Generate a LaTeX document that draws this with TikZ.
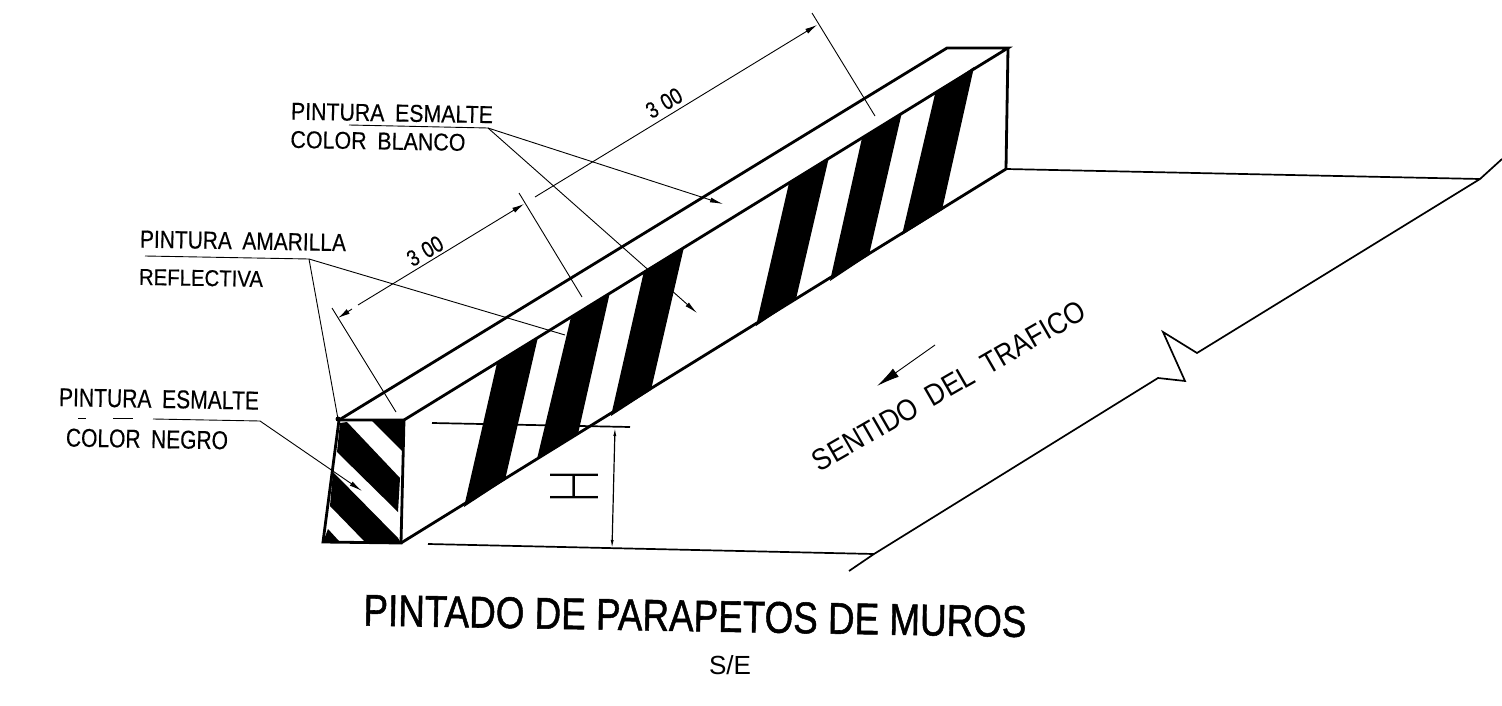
\documentclass[tikz,border=0pt]{standalone}
\usepackage{fontspec}
\usepackage{graphicx}
\setmainfont{Liberation Sans}
\newfontfamily\thinfont{Lato Light}
\newfontfamily\heavyfont[FakeBold=1.2]{Liberation Sans}
\newfontfamily\medfont[FakeBold=0.35]{Liberation Sans}
\usetikzlibrary{arrows.meta}
\newcommand{\fitbox}[3]{\resizebox{#1pt}{#2pt}{#3}}
\tikzset{
  outline/.style={line width=2.8pt,line join=miter,black},
  groundline/.style={line width=1.7pt,black},
  leader/.style={line width=0.9pt,black},
  tipped/.style={leader,-{Latex[length=13pt,width=5pt]}},
  dimtip/.style={leader,-{Latex[length=12pt,width=5.5pt]}},
  txt/.style={inner sep=0pt,outer sep=0pt,text=black,rotate=-1},
  fillblack/.style={fill=black,draw=none}
}
\begin{document}
\begin{tikzpicture}[x=1pt,y=-1pt]
\useasboundingbox (0,0) rectangle (1502,706);
\fill[white] (0,0) rectangle (1502,706);
% corners
\coordinate (fTL) at (339,420);
\coordinate (fTR) at (404,420);
\coordinate (fBR) at (401,543);
\coordinate (fBL) at (323,542);
\coordinate (bL) at (947,48);
\coordinate (bR) at (1008,48);
\coordinate (bB) at (1006,169);
% long face stripes
\fill[fillblack] (497,363)--(538,337)--(505,480)--(464,507)--cycle;
\fill[fillblack] (571,317)--(610,292)--(578,434)--(537,459)--cycle;
\fill[fillblack] (644,271)--(684,247)--(651,390)--(611,416)--cycle;
\fill[fillblack] (789,183)--(829,157)--(796,299)--(756,326)--cycle;
\fill[fillblack] (862,138)--(902,112)--(869,255)--(830,281)--cycle;
\fill[fillblack] (935,94)--(974,67)--(942,210)--(902,235)--cycle;
% end face stripes
\fill[fillblack] (372,421)--(404,421)--(403,452)--cycle;
\fill[fillblack] (340,423)--(347,422)--(400,478)--(398,512)--(337,452)--cycle;
\fill[fillblack] (333,472)--(398,538)--(401,543)--(365,542)--(330,506)--cycle;
\fill[fillblack] (328,529)--(339,541)--(323,542)--cycle;
% parapet outline
\draw[outline] (fTL)--(fTR)--(fBR)--(fBL)--cycle;
\draw[outline] (fTL)--(bL)--(bR)--(fTR);
\draw[outline] (bR)--(bB)--(fBR);
% ground
\coordinate (gE) at (1480,179);
\coordinate (gEx) at (1502,159);
\coordinate (z1) at (1197,353);
\coordinate (z2) at (1163,332);
\coordinate (z3) at (1185,381);
\coordinate (z4) at (1158,378);
\coordinate (gS) at (874,554);
\coordinate (gSx) at (849,571);
\draw[groundline] (bB)--(gE);
\draw[groundline] (gEx)--(gE)--(z1)--(z2)--(z3)--(z4)--(gS)--(gSx);
% height dimension
\coordinate (hT) at (432,423);
\coordinate (hTe) at (630,427);
\coordinate (hB) at (428,544);
\coordinate (hV1) at (615,427);
\coordinate (hV2) at (612,549);
\draw[groundline] (hT)--(hTe);
\draw[groundline] (hB)--(gS);
\draw[line width=1.2pt,{Latex[length=9pt,width=3pt]}-{Latex[length=9pt,width=3pt]}] (hV1)--(hV2);
\node[inner sep=0pt,rotate=90] (hlabel) at (574,486) {\fitbox{34}{48}{\thinfont H}};
% dimensions along the top
\coordinate (e1a) at (332,308);
\coordinate (e1b) at (396,412);
\coordinate (e2a) at (519,193);
\coordinate (e2b) at (582,297);
\coordinate (e3a) at (812,13);
\coordinate (e3b) at (875,116);
\coordinate (d1) at (338,318);
\coordinate (d1g) at (358,305);
\coordinate (d1h) at (352,309);
\coordinate (d2) at (524,204);
\coordinate (d2b) at (535,197);
\coordinate (d3) at (817,25);
\draw[leader] (e1a)--(e1b);
\draw[leader] (e2a)--(e2b);
\draw[leader] (e3a)--(e3b);
\draw[dimtip] (d1h)--(d1);
\draw[dimtip] (d1g)--(d2);
\draw[dimtip] (d2b)--(d3);
\node[txt,rotate=31] (dimA) at (425,251) {\fitbox{38}{16}{\medfont 3\,\,00}};
\node[txt,rotate=31] (dimB) at (664,103) {\fitbox{38}{16}{\medfont 3\,\,00}};
% labels
\node[txt] (lblA) at (392,113) {\fitbox{202}{17}{\medfont PINTURA\hspace{0.5em}ESMALTE}};
\node[txt] (lblB) at (378,141) {\fitbox{175}{17}{\medfont COLOR\hspace{0.5em}BLANCO}};
\node[txt] (lblC) at (243,241) {\fitbox{206}{17}{\medfont PINTURA\hspace{0.5em}AMARILLA}};
\node[txt] (lblD) at (201,278) {\fitbox{124}{16}{\medfont REFLECTIVA}};
\node[txt] (lblE) at (159,399) {\fitbox{200}{18}{\medfont PINTURA\hspace{0.5em}ESMALTE}};
\node[txt] (lblF) at (147,439) {\fitbox{162}{18}{\medfont COLOR\hspace{0.5em}NEGRO}};
% leaders: blanco
\coordinate (bl0) at (349,125);
\coordinate (bl1) at (488,128);
\coordinate (bl2) at (723,204);
\coordinate (bl3) at (697,313);
\draw[leader] (bl0)--(bl1);
\draw[tipped] (bl1)--(bl2);
\draw[tipped] (bl1)--(bl3);
% leaders: amarilla
\coordinate (am0) at (145,256);
\coordinate (am1) at (309,259);
\coordinate (am2) at (565,335);
\coordinate (am3) at (338,419);
\draw[leader] (am0)--(am1);
\draw[leader] (am1)--(am2);
\draw[leader] (am1)--(am3);
\fill (am3) circle (2.5pt);
% leader: negro
\coordinate (ne0a) at (78,418);
\coordinate (ne0b) at (86,418);
\coordinate (ne1a) at (113,418);
\coordinate (ne1b) at (133,418);
\coordinate (ne2) at (153,419);
\coordinate (ne3) at (260,421);
\coordinate (ne4) at (362,491);
\draw[leader] (ne0a)--(ne0b);
\draw[leader] (ne1a)--(ne1b);
\draw[leader] (ne2)--(ne3);
\draw[tipped] (ne3)--(ne4);
% traffic
\coordinate (tr1) at (935,345);
\coordinate (tr2) at (877,386);
\draw[leader,-{Latex[length=23pt,width=10pt]}] (tr1)--(tr2);
\node[txt,rotate=31] (traf) at (949,386) {\fitbox{310}{21}{SENTIDO\hspace{0.5em}DEL\hspace{0.5em}TRAFICO}};
% title
\node[txt] (title) at (695,616) {\fitbox{663}{31}{\heavyfont PINTADO DE PARAPETOS DE MUROS}};
\node[inner sep=0pt] (scale) at (730,665) {\fitbox{42}{19}{S/E}};
\end{tikzpicture}
\end{document}
